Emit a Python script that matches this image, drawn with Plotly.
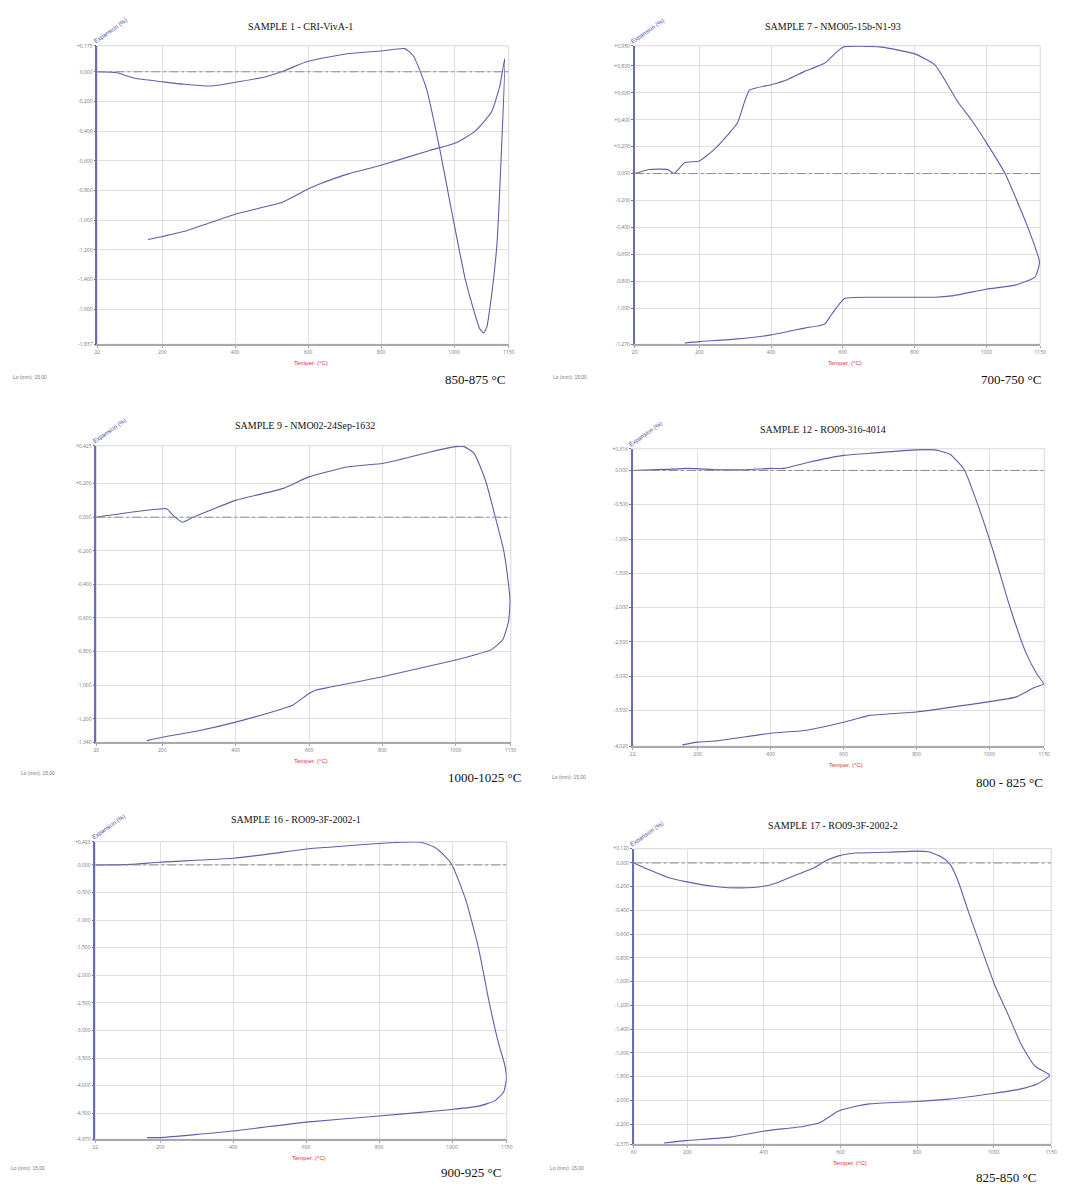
import plotly.graph_objects as go

W, H = 1072, 1191
OFF = 8  # default page margin of the html body
FW, FH = W - OFF, H - OFF

# ---------------- data ----------------
titles = ["SAMPLE 1 - CRI-VivA-1", "SAMPLE 7 - NMO05-15b-N1-93", "SAMPLE 9 - NMO02-24Sep-1632",
          "SAMPLE 12 - RO09-316-4014", "SAMPLE 16 - RO09-3F-2002-1", "SAMPLE 17 - RO09-3F-2002-2"]
sinter_labels = ["850-875 °C", "700-750 °C", "1000-1025 °C", "800 - 825 °C", "900-925 °C", "825-850 °C"]

s1_temp = [22, 76, 125, 200, 260, 332, 400, 484, 538, 600, 708, 800, 865, 888, 924, 960, 995, 1031, 1058, 1070,
           1081, 1090, 1099, 1117, 1130, 1139, 1126, 1103, 1058, 1004, 933, 800, 708, 628, 600, 529, 400, 269, 200, 161]
s1_exp = [0.0, -0.007, -0.044, -0.067, -0.084, -0.096, -0.071, -0.033, 0.011, 0.071, 0.122, 0.14, 0.156, 0.11, -0.11,
          -0.51, -0.96, -1.40, -1.64, -1.73, -1.76, -1.72, -1.58, -1.18, -0.53, 0.09, -0.09, -0.27, -0.40, -0.48,
          -0.53, -0.63, -0.69, -0.76, -0.79, -0.88, -0.96, -1.07, -1.11, -1.13]

s7_temp = [20, 60, 112, 130, 159, 200, 242, 280, 307, 340, 400, 447, 493, 549, 600, 707, 800, 856, 921, 958, 1000,
           1052, 1117, 1148, 1135, 1080, 1000, 903, 856, 680, 605, 568, 549, 493, 400, 307, 200, 159]
s7_exp = [0.0, 0.03, 0.03, 0.0, 0.08, 0.094, 0.18, 0.29, 0.38, 0.62, 0.66, 0.70, 0.76, 0.82, 0.94, 0.94, 0.89, 0.81,
          0.53, 0.40, 0.23, 0.0, -0.41, -0.66, -0.77, -0.83, -0.86, -0.91, -0.92, -0.92, -0.93, -1.05, -1.12, -1.15,
          -1.20, -1.23, -1.25, -1.26]

s9_temp = [20, 100, 200, 212, 230, 255, 284, 400, 528, 600, 708, 800, 843, 933, 1000, 1023, 1050, 1081, 1108, 1131,
           1144, 1148, 1144, 1128, 1096, 1051, 1000, 800, 662, 617, 600, 555, 528, 400, 302, 200, 158]
s9_exp = [0.0, 0.025, 0.05, 0.05, 0.01, -0.03, 0.0, 0.10, 0.17, 0.24, 0.30, 0.32, 0.34, 0.39, 0.42, 0.42, 0.38, 0.22,
          0.0, -0.20, -0.40, -0.50, -0.62, -0.73, -0.79, -0.82, -0.85, -0.95, -1.01, -1.03, -1.05, -1.12, -1.14,
          -1.22, -1.27, -1.31, -1.33]

s12_temp = [22, 109, 173, 256, 329, 400, 437, 505, 600, 672, 800, 850, 891, 909, 932, 964, 1010, 1056, 1101, 1129,
            1148, 1120, 1074, 1000, 800, 672, 635, 600, 494, 400, 256, 200, 158]
s12_exp = [0.0, 0.015, 0.03, 0.01, 0.01, 0.03, 0.03, 0.12, 0.22, 0.25, 0.30, 0.30, 0.24, 0.15, 0.0, -0.44, -1.17,
           -1.99, -2.67, -2.96, -3.11, -3.17, -3.30, -3.37, -3.52, -3.57, -3.62, -3.67, -3.79, -3.83, -3.94, -3.96,
           -4.00]

s16_temp = [22, 119, 200, 400, 500, 600, 680, 800, 860, 915, 952, 979, 1000, 1037, 1073, 1100, 1127, 1145, 1149,
            1141, 1118, 1073, 1000, 800, 600, 400, 200, 164]
s16_exp = [0.0, 0.01, 0.05, 0.12, 0.20, 0.29, 0.33, 0.39, 0.41, 0.41, 0.32, 0.17, 0.0, -0.62, -1.52, -2.43, -3.22,
           -3.64, -3.88, -4.12, -4.27, -4.37, -4.43, -4.55, -4.66, -4.82, -4.94, -4.94]

s17_temp = [60, 105, 148, 196, 278, 338, 399, 433, 485, 528, 563, 595, 640, 718, 798, 830, 865, 886, 908, 934, 968,
            1003, 1038, 1072, 1107, 1146, 1115, 1063, 1003, 882, 798, 675, 640, 595, 545, 502, 399, 312, 196, 139]
s17_exp = [0.0, -0.064, -0.12, -0.157, -0.20, -0.21, -0.196, -0.168, -0.10, -0.045, 0.02, 0.06, 0.084, 0.09, 0.10,
           0.095, 0.048, -0.01, -0.16, -0.41, -0.72, -1.03, -1.28, -1.53, -1.71, -1.79, -1.86, -1.91, -1.94, -1.99,
           -2.01, -2.03, -2.05, -2.09, -2.19, -2.22, -2.26, -2.31, -2.34, -2.36]

temps = [s1_temp, s7_temp, s9_temp, s12_temp, s16_temp, s17_temp]
exps = [s1_exp, s7_exp, s9_exp, s12_exp, s16_exp, s17_exp]

x_ticks = [[22, 200, 400, 600, 800, 1000, 1150],
           [20, 200, 400, 600, 800, 1000, 1150],
           [20, 200, 400, 600, 800, 1000, 1150],
           [22, 200, 400, 600, 800, 1000, 1150],
           [22, 200, 400, 600, 800, 1000, 1150],
           [60, 200, 400, 600, 800, 1000, 1150]]
y_ticks = [[0.175, 0.0, -0.2, -0.4, -0.6, -0.8, -1.0, -1.2, -1.4, -1.6, -1.837],
           [0.95, 0.8, 0.6, 0.4, 0.2, 0.0, -0.2, -0.4, -0.6, -0.8, -1.0, -1.27],
           [0.425, 0.2, 0.0, -0.2, -0.4, -0.6, -0.8, -1.0, -1.2, -1.34],
           [0.316, 0.0, -0.5, -1.0, -1.5, -2.0, -2.5, -3.0, -3.5, -4.02],
           [0.42, 0.0, -0.5, -1.0, -1.5, -2.0, -2.5, -3.0, -3.5, -4.0, -4.5, -4.97],
           [0.12, 0.0, -0.2, -0.4, -0.6, -0.8, -1.0, -1.2, -1.4, -1.6, -1.8, -2.0, -2.2, -2.37]]

# ---------------- layout geometry (page pixels) ----------------
boxes = [(95, 43, 510, 343), (637, 43, 1046, 343),
         (94, 445, 512, 743), (635, 448, 1050, 747),
         (93, 843, 508, 1142), (636, 850, 1057, 1147)]
title_pos = [(300, 24), (837, 24), (305, 425), (827, 429), (295, 821), (837, 827)]
label_pos = [(508, 378), (1049, 378), (524, 778), (1051, 783), (504, 1175), (1044, 1180)]
lo_pos = [(8, 376), (553, 376), (16, 774), (552, 778), (6, 1171), (550, 1171)]

LINE = "#5c60aa"


def fmt(v):
    s = f"{abs(v):.3f}".replace(".", ",")
    if v > 0:
        return "+" + s
    if v < 0:
        return "-" + s
    return "0,000"


def px(x, y):
    return (x - OFF) / FW, 1 - (y - OFF) / FH


fig = go.Figure()
annotations = []
shapes = []
layout_axes = {}

for i in range(6):
    k = "" if i == 0 else str(i + 1)
    x0, y0, x1, y1 = boxes[i]
    fig.add_trace(go.Scatter(x=temps[i], y=exps[i], mode="lines",
                             line=dict(color=LINE, width=1.1, shape="spline", smoothing=0.5),
                             xaxis="x" + k, yaxis="y" + k, showlegend=False, hoverinfo="x+y"))
    xt = x_ticks[i]
    yt = y_ticks[i]
    dx0, dy1 = px(x0, y1)
    dx1, dy0 = px(x1, y0)
    layout_axes["xaxis" + k] = dict(
        domain=[dx0, dx1], anchor="y" + k, range=[xt[0], xt[-1]],
        tickvals=xt, ticktext=[str(v) for v in xt], tickfont=dict(size=5, color="#777"),
        showgrid=True, gridcolor="#dedee4", gridwidth=1, zeroline=False,
        showline=True, linecolor="#a8a8b0", linewidth=1.5, ticks="outside", ticklen=2, tickcolor="#a8a8b0")
    layout_axes["yaxis" + k] = dict(
        domain=[dy1, dy0], anchor="x" + k, range=[yt[-1], yt[0]],
        tickvals=yt, ticktext=[fmt(v) for v in yt], tickfont=dict(size=5, color="#777"),
        showgrid=True, gridcolor="#dedee4", gridwidth=1, zeroline=False,
        showline=True, linecolor="#6a6eb0", linewidth=1.5, ticks="outside", ticklen=2, tickcolor="#6a6eb0")
    # plot border
    shapes.append(dict(type="rect", xref="x" + k + " domain", yref="y" + k + " domain",
                       x0=0, x1=1, y0=0, y1=1, line=dict(color="#d6d6dc", width=1), layer="below"))
    # zero reference line
    shapes.append(dict(type="line", xref="x" + k + " domain", yref="y" + k,
                       x0=0, x1=1, y0=0, y1=0, line=dict(color="#8a8a98", width=1, dash="dashdot")))
    # title
    tx, ty = px(*title_pos[i])
    annotations.append(dict(text=titles[i], x=tx, y=ty, xref="paper", yref="paper", showarrow=False,
                            xanchor="center", yanchor="middle",
                            font=dict(family="Liberation Serif", size=10, color="#111")))
    # sintering range label
    lx, ly = px(*label_pos[i])
    annotations.append(dict(text=sinter_labels[i], x=lx, y=ly, xref="paper", yref="paper", showarrow=False,
                            xanchor="right", yanchor="middle",
                            font=dict(family="Liberation Serif", size=13, color="#111")))
    # Lo text
    ox, oy = px(*lo_pos[i])
    annotations.append(dict(text="Lo (mm): 15,00", x=ox, y=oy, xref="paper", yref="paper", showarrow=False,
                            xanchor="left", yanchor="middle",
                            font=dict(family="Liberation Sans", size=5, color="#777")))
    # x-axis title
    xx, xy = px((x0 + x1) / 2 + 8, y1 + 19)
    annotations.append(dict(text="Temper. (°C)", x=xx, y=xy, xref="paper", yref="paper", showarrow=False,
                            xanchor="center", yanchor="middle",
                            font=dict(family="Liberation Sans", size=6, color="#e03030")))
    # y-axis title (rotated)
    yx, yy = px(x0 + 13, y0 - 15)
    annotations.append(dict(text="Expansion (%)", x=yx, y=yy, xref="paper", yref="paper", showarrow=False,
                            xanchor="center", yanchor="middle", textangle=-35,
                            font=dict(family="Liberation Sans", size=6, color="#4a4ea0")))

fig.update_layout(width=FW, height=FH, margin=dict(l=0, r=0, t=0, b=0),
                  paper_bgcolor="white", plot_bgcolor="white",
                  annotations=annotations, shapes=shapes, **layout_axes)

fig.write_html("out.html")
